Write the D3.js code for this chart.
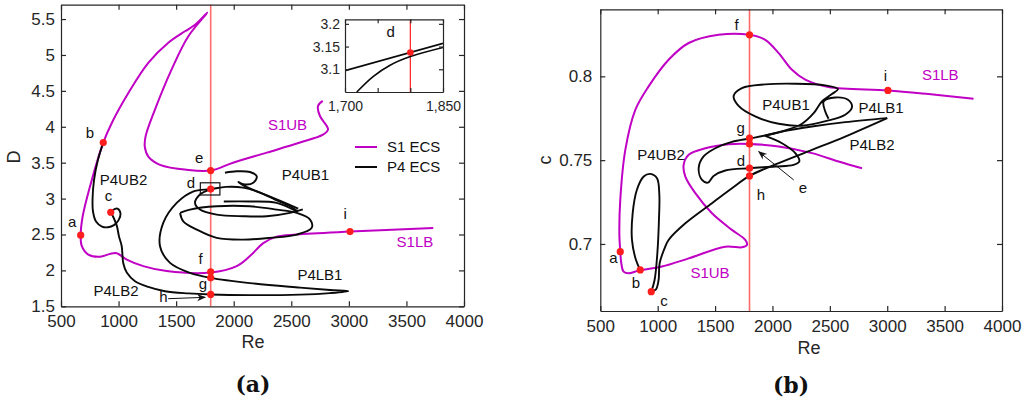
<!DOCTYPE html>
<html>
<head>
<meta charset="utf-8">
<script src="https://cdn.jsdelivr.net/npm/d3@7"></script>
<style>
  body { margin: 0; background: #fff; }
  text { font-family: "Liberation Sans", Arial, sans-serif; }
  text.tag { font-family: "DejaVu Serif", "Liberation Serif", serif; font-weight: bold; }
</style>
</head>
<body>
<svg id="chart" width="1026" height="402"></svg>
<script>
// ticks
var reTicks = [500, 1000, 1500, 2000, 2500, 3000, 3500, 4000];
var dTicks = [1.5, 2, 2.5, 3, 3.5, 4, 4.5, 5, 5.5];
var cTicks = [0.7, 0.75, 0.8];
var insetReTicks = [1700, 1750, 1800, 1850];
var insetDTicks = [3.1, 3.15, 3.2];
var reMark = 1800;

// panel (a): D vs Re
var s1D = [[2773,4.36],[2732,4.29],[2749,4.15],[2808,4.01],[2819,3.96],[2775,3.89],[2576,3.78],[2287,3.64],[1994,3.50],[1800,3.39],[1592,3.40],[1360,3.47],[1260,3.58],[1228,3.72],[1235,3.87],[1316,4.24],[1461,4.80],[1606,5.26],[1771,5.59],[1664,5.42],[1577,5.33],[1432,5.17],[1258,4.89],[1085,4.47],[940,4.05],[867,3.78],[752,3.17],[688,2.75],[671,2.49],[680,2.34],[737,2.22],[839,2.19],[926,2.23],[984,2.24],[1071,2.15],[1215,2.06],[1418,1.99],[1800,1.97],[2026,2.06],[2141,2.20],[2257,2.38],[2373,2.47],[2547,2.50],[3010,2.54],[3733,2.59]];
var p4D_ub2 = [[867,3.78],[821,3.54],[787,3.26],[774,2.99],[778,2.82],[804,2.68],[856,2.61],[908,2.60],[960,2.63],[1000,2.70],[1017,2.79],[990,2.86],[950,2.84],[932,2.81]];
var p4D_main = [[932,2.81],[955,2.74],[985,2.62],[1004,2.47],[1027,2.34],[1041,2.10],[1071,1.97],[1143,1.85],[1258,1.77],[1403,1.71],[1606,1.68],[1800,1.665],[2141,1.656],[2576,1.663],[2836,1.684],[2995,1.71],[2836,1.726],[2576,1.76],[2141,1.823],[1800,1.896],[1620,1.965],[1447,2.104],[1360,2.336],[1388,2.662],[1505,2.94],[1646,3.098],[1800,3.132],[1933,3.163],[2081,3.153],[2228,3.084],[2359,2.986],[2489,2.893],[2558,2.819]];
var p4D_inner = [[1800,3.132],[1707,3.056],[1664,2.94],[1707,2.847],[1852,2.777],[2083,2.754],[2287,2.754],[2489,2.801],[2600,2.85]];
var p4D_lower = [[1534,2.80],[1562,2.684],[1679,2.568],[1852,2.453],[2083,2.429],[2315,2.453],[2547,2.499],[2677,2.592],[2663,2.708],[2547,2.801],[2373,2.847],[2141,2.893],[1852,2.893],[1620,2.847],[1534,2.80]];
var p4D_top = [[1924,3.36],[2026,3.38],[2141,3.37],[2200,3.31],[2170,3.22],[2083,3.20],[2040,3.23],[2100,3.17],[2250,3.07],[2400,2.97],[2560,2.86]];
var p4D_mid = [[1914,2.96],[2141,2.96],[2373,2.94],[2547,2.82]];
var dotsD = [[671,2.49],[867,3.78],[932,2.81],[1800,3.39],[1800,3.132],[1800,1.98],[1800,1.896],[1800,1.665],[3010,2.54]];
var zoomBoxRe = [1710, 1880];
var zoomBoxD = [3.05, 3.22];
var insetLine1 = [[1700,3.097],[1850,3.157]];
var insetLine2 = [[1718,3.05],[1743,3.084],[1769,3.109],[1800,3.128],[1850,3.148]];
var insetDot = [1800, 3.137];
var labelsD = [
  {t:"a",re:596,v:2.61},{t:"b",re:752,v:3.85},{t:"c",re:913,v:2.97},
  {t:"P4UB2",re:1043,v:3.19},{t:"e",re:1699,v:3.49},{t:"d",re:1629,v:3.15},
  {t:"P4UB1",re:2623,v:3.26},{t:"i",re:2967,v:2.71},
  {t:"S1UB",re:2467,v:3.95,m:true},{t:"S1LB",re:3574,v:2.32,m:true},
  {t:"f",re:1712,v:2.09},{t:"P4LB1",re:2749,v:1.87},{t:"g",re:1733,v:1.74},
  {t:"P4LB2",re:978,v:1.64},{t:"h",re:1390,v:1.56}
];
var arrowD = [[1431,1.606],[1752,1.625]];

// panel (b): c vs Re
var s1C = [[2780,0.7452],[2576,0.7492],[2344,0.7542],[2054,0.7581],[1798,0.7597],[1618,0.7595],[1415,0.7571],[1270,0.7532],[1226,0.7472],[1241,0.7402],[1328,0.7303],[1473,0.7183],[1647,0.7084],[1763,0.7024],[1778,0.6994],[1734,0.698],[1589,0.6984],[1270,0.6914],[1037,0.6865],[834,0.6841],[747,0.6825],[703,0.6835],[683,0.6885],[674,0.6954],[666,0.7064],[674,0.7263],[718,0.7561],[805,0.7800],[921,0.7940],[1095,0.8099],[1270,0.8199],[1531,0.8248],[1798,0.8248],[1937,0.8218],[2054,0.8139],[2170,0.8039],[2286,0.7980],[2489,0.7936],[3006,0.7916],[3360,0.7894],[3752,0.7866]];
var p4C_ub2 = [[848,0.6845],[811,0.6904],[776,0.7024],[782,0.7183],[819,0.7323],[878,0.7402],[936,0.7418],[994,0.7392],[1014,0.7299],[1011,0.7143],[997,0.6944],[973,0.6785],[944,0.6715]];
var p4C_lb2 = [[944,0.6715],[985,0.6729],[1008,0.6785],[1017,0.6885],[1066,0.6984],[1095,0.7024],[1241,0.7123],[1473,0.7243],[1647,0.7332],[1800,0.7406],[2054,0.7482],[2344,0.7561],[2634,0.7641],[3000,0.7751]];
var p4C_back = [[3000,0.7751],[2634,0.7727],[2344,0.7701],[2112,0.7675],[1937,0.7647],[1800,0.7629],[1647,0.7609],[1502,0.7571],[1400,0.7522],[1357,0.7452],[1386,0.7382],[1438,0.7366],[1487,0.7406],[1589,0.7438],[1800,0.7452],[2025,0.7462],[2184,0.7472],[2234,0.7492],[2199,0.7542],[2083,0.7601],[1937,0.7645]];
var p4C_ub1 = [[1937,0.7647],[2112,0.7677],[2257,0.7717],[2359,0.7780],[2431,0.7850],[2518,0.7894],[2571,0.7924],[2460,0.7946],[2199,0.7956],[1937,0.7952],[1734,0.7930],[1662,0.7884],[1705,0.7824],[1850,0.7761],[2054,0.7717],[2257,0.7705],[2489,0.7737],[2634,0.7771],[2693,0.7816],[2658,0.7860],[2547,0.7874],[2446,0.7850],[2460,0.7790],[2489,0.7747]];
var dotsC = [[674,0.6954],[848,0.6845],[944,0.6715],[1800,0.8248],[3006,0.7916],[1800,0.7631],[1800,0.7597],[1800,0.7452],[1800,0.7406]];
var labelsC = [
  {t:"f",re:1687,v:0.8278},{t:"i",re:2985,v:0.7974},{t:"S1LB",re:3462,v:0.798,m:true},
  {t:"P4UB1",re:2118,v:0.780},{t:"P4LB1",re:2946,v:0.7783},{t:"g",re:1722,v:0.7663},
  {t:"P4LB2",re:2867,v:0.7562},{t:"P4UB2",re:1029,v:0.7502},{t:"d",re:1726,v:0.7466},
  {t:"h",re:1900,v:0.7263},{t:"e",re:2266,v:0.7305},{t:"a",re:615,v:0.6886},
  {t:"b",re:811,v:0.6737},{t:"c",re:1055,v:0.6630},{t:"S1UB",re:1456,v:0.6797,m:true}
];
var arrowC = [[2185,0.7382],[1880,0.7551]];

var magenta = "#c000c4";
var axisCol = "#262626";
var svg = d3.select("#chart");

svg.append("defs").append("marker")
  .attr("id", "head")
  .attr("viewBox", "0 0 10 10")
  .attr("refX", 9).attr("refY", 5)
  .attr("markerWidth", 9).attr("markerHeight", 9)
  .attr("markerUnits", "userSpaceOnUse")
  .attr("orient", "auto")
  .append("path").attr("d", "M0,1 L10,5 L0,9 L3,5 Z").attr("fill", "#111");

var drawFrame = function(g, x, y, yTicks, ySize, pad, fmtY, fontSize) {
  var x0 = x.range()[0], x1 = x.range()[1], y0 = y.range()[0], y1 = y.range()[1];
  g.append("g").attr("transform", "translate(0," + y0 + ")")
    .call(d3.axisBottom(x).tickValues(reTicks).tickSize(-ySize).tickSizeOuter(0).tickPadding(pad[0]).tickFormat(function(d){ return d; }));
  g.append("g").attr("transform", "translate(0," + y1 + ")")
    .call(d3.axisTop(x).tickValues(reTicks).tickSize(-ySize).tickSizeOuter(0).tickFormat(""));
  g.append("g").attr("transform", "translate(" + x0 + ",0)")
    .call(d3.axisLeft(y).tickValues(yTicks).tickSize(-ySize).tickSizeOuter(0).tickPadding(pad[1]).tickFormat(fmtY));
  g.append("g").attr("transform", "translate(" + x1 + ",0)")
    .call(d3.axisRight(y).tickValues(yTicks).tickSize(-ySize).tickSizeOuter(0).tickFormat(""));
  g.selectAll(".domain, .tick line").attr("stroke", axisCol).attr("stroke-width", 1.2);
  g.selectAll(".tick text").attr("fill", axisCol).attr("font-size", fontSize)
    .attr("font-family", "Liberation Sans, Arial, sans-serif");
};

var drawPanel = function(cfg) {
  var g = svg.append("g");
  var x = d3.scaleLinear().domain([500, 4000]).range(cfg.xr);
  var y = d3.scaleLinear().domain(cfg.yd).range(cfg.yr);
  var line = d3.line()
    .x(function(d){ return x(d[0]); })
    .y(function(d){ return y(d[1]); })
    .curve(d3.curveCatmullRom.alpha(0.5));

  // Re = 1800 marker line
  g.append("line")
    .attr("x1", x(reMark)).attr("x2", x(reMark))
    .attr("y1", cfg.yr[0]).attr("y2", cfg.yr[1])
    .attr("stroke", "#ff6b6b").attr("stroke-width", 1.6);

  g.append("path").attr("d", line(cfg.s1))
    .attr("fill", "none").attr("stroke", magenta).attr("stroke-width", 2);

  cfg.p4.forEach(function(p) {
    g.append("path").attr("d", line(p))
      .attr("fill", "none").attr("stroke", "#0a0a0a").attr("stroke-width", 1.9);
  });

  g.selectAll("circle.pt")
    .data(cfg.dots)
    .enter()
    .append("circle")
    .attr("class", "pt")
    .attr("cx", function(d){ return x(d[0]); })
    .attr("cy", function(d){ return y(d[1]); })
    .attr("r", 3.6)
    .attr("fill", "#ff1e1e");

  g.selectAll("text.lab")
    .data(cfg.labels)
    .enter()
    .append("text")
    .attr("class", "lab")
    .attr("x", function(d){ return x(d.re); })
    .attr("y", function(d){ return y(d.v); })
    .attr("text-anchor", "middle")
    .attr("font-size", "15px")
    .attr("fill", function(d){ return d.m ? magenta : "#111"; })
    .text(function(d){ return d.t; });

  g.append("line")
    .attr("x1", x(cfg.arrow[0][0])).attr("y1", y(cfg.arrow[0][1]))
    .attr("x2", x(cfg.arrow[1][0])).attr("y2", y(cfg.arrow[1][1]))
    .attr("stroke", "#111").attr("stroke-width", 1)
    .attr("marker-end", "url(#head)");

  drawFrame(g, x, y, cfg.yTicks, 5, [9, cfg.ypad], function(d){ return String(d); }, "17px");

  g.append("text").attr("x", cfg.reLab[0]).attr("y", cfg.reLab[1])
    .attr("text-anchor", "middle").attr("font-size", "18px").attr("fill", axisCol).text("Re");
  g.append("text")
    .attr("transform", "translate(" + cfg.yLab[0] + "," + cfg.yLab[1] + ") rotate(-90)")
    .attr("text-anchor", "middle").attr("font-size", "18px").attr("fill", axisCol).text(cfg.yName);
  g.append("text").attr("class", "tag").attr("x", cfg.tag[0]).attr("y", cfg.tag[1])
    .attr("text-anchor", "middle").attr("font-size", "22px")
    .attr("fill", "#111").text(cfg.tagText);
  return {g: g, x: x, y: y};
};

var pa = drawPanel({
  xr: [61, 464], yd: [1.5, 5.7], yr: [306.3, 4.7], yTicks: dTicks, ypad: 6,
  s1: s1D, p4: [p4D_ub2, p4D_main, p4D_inner, p4D_lower, p4D_top, p4D_mid],
  dots: dotsD, labels: labelsD, arrow: arrowD,
  reLab: [253, 348], yLab: [20, 157], yName: "D", tag: [253, 392], tagText: "(a)"
});

// zoom box around d
pa.g.append("rect")
  .attr("x", pa.x(zoomBoxRe[0])).attr("y", pa.y(zoomBoxD[1]))
  .attr("width", pa.x(zoomBoxRe[1]) - pa.x(zoomBoxRe[0]))
  .attr("height", pa.y(zoomBoxD[0]) - pa.y(zoomBoxD[1]))
  .attr("fill", "none").attr("stroke", "#111").attr("stroke-width", 1.2);

// legend
var legend = [{t:"S1 ECS", c:magenta, y:147}, {t:"P4 ECS", c:"#0a0a0a", y:167}];
legend.forEach(function(l) {
  pa.g.append("line").attr("x1", 355).attr("x2", 377).attr("y1", l.y).attr("y2", l.y)
    .attr("stroke", l.c).attr("stroke-width", 2);
  pa.g.append("text").attr("x", 387).attr("y", l.y + 5).attr("font-size", "15px")
    .attr("fill", "#111").text(l.t);
});

// inset
var ix = d3.scaleLinear().domain([1700, 1850]).range([345, 443]);
var iy = d3.scaleLinear().domain([3.05, 3.21]).range([92, 19.3]);
var ig = svg.append("g");
ig.append("rect").attr("x", 345).attr("y", 19.3).attr("width", 98).attr("height", 72.7).attr("fill", "#fff");
ig.append("clipPath").attr("id", "insetClip").append("rect")
  .attr("x", 345).attr("y", 19.3).attr("width", 98).attr("height", 72.7);
var iline = d3.line().x(function(d){ return ix(d[0]); }).y(function(d){ return iy(d[1]); })
  .curve(d3.curveCatmullRom.alpha(0.5));
var ic = ig.append("g").attr("clip-path", "url(#insetClip)");
ic.append("line").attr("x1", ix(reMark)).attr("x2", ix(reMark)).attr("y1", 19.3).attr("y2", 92)
  .attr("stroke", "#ff2020").attr("stroke-width", 1.2);
[insetLine1, insetLine2].forEach(function(p) {
  ic.append("path").attr("d", iline(p)).attr("fill", "none").attr("stroke", "#0a0a0a").attr("stroke-width", 1.6);
});
ic.append("circle").attr("cx", ix(insetDot[0])).attr("cy", iy(insetDot[1])).attr("r", 3.3).attr("fill", "#ff1e1e");
ig.append("text").attr("x", ix(1770)).attr("y", iy(3.172)).attr("text-anchor", "middle")
  .attr("font-size", "15px").attr("fill", "#111").text("d");
ig.append("g").attr("transform", "translate(0,92)")
  .call(d3.axisBottom(ix).tickValues(insetReTicks).tickSize(-4).tickSizeOuter(0).tickPadding(9)
    .tickFormat(function(d){ return (d === 1700 || d === 1850) ? d3.format(",")(d) : ""; }));
ig.append("g").attr("transform", "translate(0,19.3)")
  .call(d3.axisTop(ix).tickValues(insetReTicks).tickSize(-4).tickSizeOuter(0).tickFormat(""));
ig.append("g").attr("transform", "translate(345,0)")
  .call(d3.axisLeft(iy).tickValues(insetDTicks).tickSize(-4).tickSizeOuter(0).tickPadding(5).tickFormat(function(d){ return String(d); }));
ig.append("g").attr("transform", "translate(443,0)")
  .call(d3.axisRight(iy).tickValues(insetDTicks).tickSize(-4).tickSizeOuter(0).tickFormat(""));
ig.selectAll(".domain, .tick line").attr("stroke", axisCol).attr("stroke-width", 1.2);
ig.selectAll(".tick text").attr("fill", axisCol).attr("font-size", "14px")
  .attr("font-family", "Liberation Sans, Arial, sans-serif");

drawPanel({
  xr: [600.3, 1002], yd: [0.66, 0.84], yr: [311, 9.3], yTicks: cTicks, ypad: 8,
  s1: s1C, p4: [p4C_ub2, p4C_lb2, p4C_back, p4C_ub1],
  dots: dotsC, labels: labelsC, arrow: arrowC,
  reLab: [809, 354], yLab: [551, 160], yName: "c", tag: [791, 393], tagText: "(b)"
});
</script>
</body>
</html>
